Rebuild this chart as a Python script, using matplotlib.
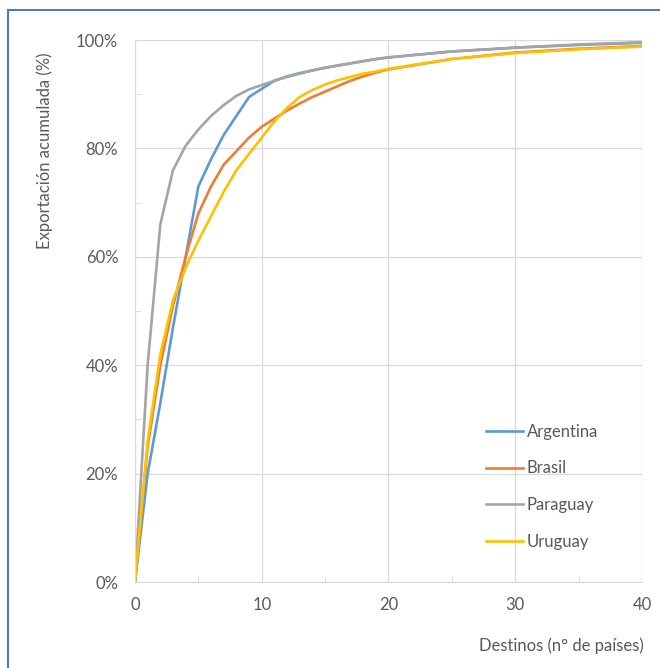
import matplotlib.pyplot as plt
from matplotlib.ticker import MultipleLocator, FuncFormatter
from matplotlib.patches import Rectangle

plt.rcParams['font.family'] = ['Lato', 'DejaVu Sans']

# destinos (n° de países)
x = [0, 1, 2, 3, 4, 5, 6, 7, 8, 9, 10, 11, 12, 13, 14, 15, 16, 17, 18, 19, 20, 25, 30, 35, 40]

argentina = [0, 20, 33, 47, 60, 73, 78, 82.5, 86, 89.5, 91, 92.5, 93.3, 93.9, 94.4, 94.9,
             95.3, 95.7, 96.1, 96.5, 96.8, 97.9, 98.6, 99.1, 99.5]
brasil = [0, 25, 40, 51, 60, 68, 73, 77, 79.5, 82, 84, 85.5, 87, 88.3, 89.5, 90.5,
          91.5, 92.5, 93.3, 94, 94.6, 96.5, 97.7, 98.4, 98.9]
paraguay = [0, 40, 66, 76, 80.5, 83.5, 86, 88, 89.7, 90.9, 91.7, 92.5, 93.2, 93.8, 94.4, 94.9,
            95.3, 95.7, 96.1, 96.5, 96.8, 97.9, 98.6, 99.2, 99.6]
uruguay = [0, 26, 42, 52, 58, 63, 67.5, 72, 76, 79, 82, 85, 87.5, 89.5, 90.8, 91.8,
           92.6, 93.2, 93.8, 94.2, 94.7, 96.5, 97.6, 98.3, 98.8]

series = ["Argentina", "Brasil", "Paraguay", "Uruguay"]
colores = ["#5B9BD5", "#ED7D31", "#A5A5A5", "#FFC000"]

fig = plt.figure(figsize=(6.6, 6.68), dpi=100)
ax = fig.add_axes([0.2045, 0.1287, 0.7682, 0.8113])

for nombre, y, c in zip(series, [argentina, brasil, paraguay, uruguay], colores):
    ax.plot(x, y, color=c, lw=1.9, label=nombre)

ax.set_xlim(0, 40)
ax.set_ylim(0, 100)
ax.xaxis.set_major_locator(MultipleLocator(10))
ax.xaxis.set_minor_locator(MultipleLocator(5))
ax.yaxis.set_major_locator(MultipleLocator(20))
ax.yaxis.set_minor_locator(MultipleLocator(10))
ax.yaxis.set_major_formatter(FuncFormatter(lambda v, p: "%d%%" % v))

ax.grid(which="major", color="#d9d9d9", lw=0.9)
ax.set_axisbelow(True)
for s in ["top", "right"]:
    ax.spines[s].set_visible(False)
for s in ["left", "bottom"]:
    ax.spines[s].set_color("#d9d9d9")
ax.tick_params(which="major", length=0, labelsize=12, labelcolor="#595959")
ax.tick_params(axis="x", which="major", pad=11)
ax.tick_params(axis="y", which="major", pad=12)
ax.tick_params(which="minor", direction="in", length=4, color="#d9d9d9")

fig.text(0.068, 0.775, "Exportación acumulada (%)", rotation=90, ha="center", va="center",
         fontsize=12, color="#595959")
fig.text(0.975, 0.034, "Destinos (n° de países)", ha="right", va="center",
         fontsize=12, color="#595959")

ax.legend(loc="upper left", bbox_to_anchor=(0.663, 0.32), frameon=False, fontsize=12,
          labelcolor="#595959", handlelength=2.2, handletextpad=0.25, labelspacing=1.25)

fig.patches.append(Rectangle((8 / 660, -0.1), 1.2, 1 - 10 / 668 + 0.1, transform=fig.transFigure,
                             fill=False, edgecolor="#4A7EBB", lw=1.5))

fig.savefig("out.png", dpi=100)
